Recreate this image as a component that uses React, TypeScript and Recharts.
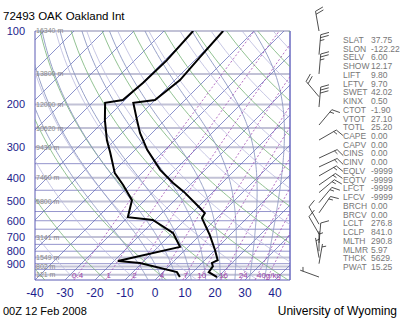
import React from "react";
import { ScatterChart, Scatter, XAxis, YAxis, ReferenceLine } from "recharts";

const tempP = [100, 128, 159, 192, 197, 232, 262, 307, 371, 420, 457, 532, 558, 585, 687, 791, 871, 894, 922, 975, 1021];
const tempC = [-60.3, -59.3, -58.3, -60.0, -66.3, -59.3, -54.0, -46.0, -35.0, -26.3, -19.7, -9.0, -5.7, -5.0, 3.3, 10.0, 14.3, 13.3, 14.7, 15.3, 19.7];
const dwptP = [100, 132, 163, 192, 197, 232, 280, 316, 383, 428, 494, 580, 596, 673, 768, 878, 894, 975, 1021];
const dwptC = [-70.3, -69.3, -69.7, -70.7, -75.7, -70.0, -62.7, -57.3, -49.0, -42.3, -34.3, -30.0, -20.7, -9.7, -2.7, -18.7, -10.7, 4.7, 7.3];

// winds: pressure, direction (deg), speed (kt)
const windP = [100, 125, 150, 186, 205, 243, 280, 332, 361, 393, 428, 460, 506, 557, 620, 680, 740, 800, 850, 900, 1021];
const windDir = [350, 5, 5, 320, 5, 40, 60, 65, 65, 60, 55, 50, 40, 35, 330, 330, 5, 0, 350, 10, 290];
const windKt = [20, 25, 25, 20, 30, 15, 15, 15, 15, 15, 15, 15, 15, 15, 10, 10, 10, 5, 5, 5, 5];

// standard levels with heights
const stdP = [100, 150, 200, 250, 300, 400, 500, 700, 850, 925, 1000];
const stdHgt = ["16340 m", "13800 m", "12000 m", "10620 m", "9430 m", "7460 m", "5800 m", "3141 m", "1549 m", "802 m", "121 m"];
const otherP = [350, 450, 550, 600, 650, 750, 800, 900, 950];

const pTicks = [100, 200, 300, 400, 500, 600, 700, 800, 900];
const tTicks = [-40, -30, -20, -10, 0, 10, 20, 30, 40];

// background lines
const isothermC = [-120, -110, -100, -90, -80, -70, -60, -50, -40, -30, -20, -10, 0, 10, 20, 30, 40];
const thetaC = [-40, -30, -20, -10, 0, 10, 20, 30, 40, 50, 60, 70, 80, 90, 100, 110, 120, 130, 140, 150, 160, 170, 180, 190];
const thetaWC = [-5, 0, 5, 10, 15, 20, 25, 30, 35];
const mixRatios = [0.4, 1, 2, 4, 7, 10, 16, 24, 32, 40];
const mixLabels = ["0.4", "1", "2", "4", "7", "10", "16", "24", "", "40g/kg"];

const statNames = ["SLAT", "SLON", "SELV", "SHOW", "LIFT", "LFTV", "SWET", "KINX", "CTOT", "VTOT", "TOTL", "CAPE", "CAPV", "CINS", "CINV", "EQLV", "EQTV", "LFCT", "LFCV", "BRCH", "BRCV", "LCLT", "LCLP", "MLTH", "MLMR", "THCK", "PWAT"];
const statValues = ["37.75", "-122.22", "6.00", "12.17", "9.80", "9.70", "42.02", "0.50", "-1.90", "27.10", "25.20", "0.00", "0.00", "0.00", "0.00", "-9999", "-9999", "-9999", "-9999", "0.00", "0.00", "276.8", "841.0", "290.8", "5.97", "5629.", "15.25"];

const SKEW = 35.3; // deg C shift per ln(p) unit (45 degree isotherms)
const P_BOT = 1050;
const skewX = (t: number, p: number) => t + SKEW * Math.log(P_BOT / p);

const levels: number[] = [];
for (let p = 1050; p >= 100; p -= 10) levels.push(p);

const isotherm = (t: number) => [
  { x: skewX(t, 1050), y: 1050 },
  { x: skewX(t, 100), y: 100 },
];

const dryAdiabat = (th: number) =>
  levels.map((p) => {
    const t = (th + 273.15) * Math.pow(p / 1000, 0.2857) - 273.15;
    return { x: skewX(t, p), y: p };
  });

const es = (tc: number) => 6.112 * Math.exp((17.67 * tc) / (tc + 243.5));
const moistRate = (tk: number, p: number) => {
  const e = es(tk - 273.15);
  const rs = (0.622 * e) / (p - e);
  const Lv = 2.5e6, Rd = 287, cp = 1005;
  return (Rd * tk + Lv * rs) / (p * (cp + (Lv * Lv * rs * 0.622) / (Rd * tk * tk)));
};
const moistAdiabat = (tw: number) => {
  const pts: { x: number; y: number }[] = [];
  let tk = tw + 273.15;
  for (let p = 1000; p < 1050; p += 5) tk += moistRate(tk, p) * 5;
  for (let p = 1050; p > 100; p -= 5) {
    pts.push({ x: skewX(tk - 273.15, p), y: p });
    tk -= moistRate(tk, p) * 5;
  }
  pts.push({ x: skewX(tk - 273.15, 100), y: 100 });
  return pts;
};

const tdFromW = (w: number, p: number) => {
  const e = (w * p) / (622 + w);
  const l = Math.log(e / 6.112);
  return (243.5 * l) / (17.67 - l);
};
const mixLine = (w: number) => levels.map((p) => ({ x: skewX(tdFromW(w, p), p), y: p }));

const tempData = tempP.map((p, i) => ({ x: skewX(tempC[i], p), y: p }));
const dwptData = dwptP.map((p, i) => ({ x: skewX(dwptC[i], p), y: p }));
const mixLabelData = mixRatios.map((w, i) => ({ x: skewX(tdFromW(w, 1000), 1000), y: 1000, label: mixLabels[i] }));
const windData = windP.map((p, i) => ({ x: 0.5, y: p, dir: windDir[i], kt: windKt[i] }));

const NoDot = () => <g />;

const MixLabel = (props: any) => {
  const { cx, cy, payload } = props;
  if (cx == null || !payload.label) return <g />;
  return (
    <text x={cx} y={cy + 3} textAnchor="middle" fontSize={8} fill="#9a3fa8">
      {payload.label}
    </text>
  );
};

const WindBarb = (props: any) => {
  const { cx, cy, payload } = props;
  if (cx == null || cy == null) return <g />;
  const a = (payload.dir * Math.PI) / 180;
  const sx = Math.sin(a), sy = -Math.cos(a);
  const rx = Math.cos(a), ry = Math.sin(a);
  const L = 20;
  const lines = [<line key="staff" x1={cx} y1={cy} x2={cx + sx * L} y2={cy + sy * L} />];
  let v = Math.round(payload.kt / 5) * 5;
  let pos = L;
  let k = 0;
  while (v >= 10) {
    const px = cx + sx * pos, py = cy + sy * pos;
    lines.push(<line key={"b" + k++} x1={px} y1={py} x2={px + rx * 8 + sx * 3} y2={py + ry * 8 + sy * 3} />);
    pos -= 3;
    v -= 10;
  }
  if (v >= 5) {
    if (pos === L) pos -= 3;
    const px = cx + sx * pos, py = cy + sy * pos;
    lines.push(<line key="half" x1={px} y1={py} x2={px + rx * 4 + sx * 1.5} y2={py + ry * 4 + sy * 1.5} />);
  }
  return (
    <g stroke="#222" strokeWidth={0.8}>
      {lines}
    </g>
  );
};

const lineStyle = (stroke: string, width = 0.8, dash?: string) => ({ stroke, strokeWidth: width, strokeDasharray: dash });

export default function App() {
  return (
    <div style={{ position: "absolute", left: 0, top: 0, width: 400, height: 320, background: "#fff", fontFamily: "'Liberation Sans', Arial, sans-serif" }}>
      <div style={{ position: "absolute", left: 0, top: 0 }}>
        <ScatterChart width={400} height={320} margin={{ top: 31, right: 110, bottom: 0, left: 0 }}>
          <XAxis
            type="number"
            dataKey="x"
            domain={[-40, 45]}
            ticks={tTicks}
            interval={0}
            allowDataOverflow
            height={40}
            tickSize={0}
            tickMargin={8}
            tickLine={false}
            tick={{ fill: "#1c1c8c", fontSize: 12 }}
            axisLine={{ stroke: "#5a5ab4" }}
          />
          <YAxis
            type="number"
            dataKey="y"
            scale="log"
            domain={[100, 1050]}
            reversed
            allowDataOverflow
            ticks={pTicks}
            interval={0}
            width={35}
            tickSize={0}
            tickMargin={10}
            tickLine={false}
            tick={{ fill: "#1c1c8c", fontSize: 11 }}
            axisLine={{ stroke: "#5a5ab4" }}
          />
          {otherP.map((p) => (
            <ReferenceLine key={"o" + p} y={p} stroke="#7a7abf" strokeWidth={0.8} />
          ))}
          {stdP.map((p, i) => (
            <ReferenceLine
              key={"s" + p}
              y={p}
              stroke="#c2c2d6"
              strokeWidth={2}
              label={{ value: stdHgt[i], position: "insideLeft", offset: 1, fill: "#8a8a8a", fontSize: 7 }}
            />
          ))}
          {isothermC.map((t) => (
            <Scatter key={"it" + t} data={isotherm(t)} line={lineStyle("#5b66b8", 0.7)} shape={NoDot} isAnimationActive={false} />
          ))}
          {thetaC.map((th) => (
            <Scatter
              key={"da" + th}
              data={dryAdiabat(th)}
              line={lineStyle(th % 20 === 0 ? "#76b276" : "#b9b9dd", 0.8)}
              shape={NoDot}
              isAnimationActive={false}
            />
          ))}
          {thetaWC.map((tw) => (
            <Scatter key={"ma" + tw} data={moistAdiabat(tw)} line={lineStyle("#8d97c2", 0.9)} shape={NoDot} isAnimationActive={false} />
          ))}
          {mixRatios.map((w) => (
            <Scatter key={"mr" + w} data={mixLine(w)} line={lineStyle("#a24cb4", 0.8, "2 2")} shape={NoDot} isAnimationActive={false} />
          ))}
          <ReferenceLine x={45} stroke="#6a6ac0" strokeWidth={1.5} />
          <Scatter data={mixLabelData} shape={MixLabel} isAnimationActive={false} />
          <Scatter data={dwptData} line={lineStyle("#000", 2)} shape={NoDot} isAnimationActive={false} />
          <Scatter data={tempData} line={lineStyle("#000", 2)} shape={NoDot} isAnimationActive={false} />
        </ScatterChart>
      </div>
      <div style={{ position: "absolute", left: 290, top: 0 }}>
        <ScatterChart width={58} height={320} margin={{ top: 31, right: 0, bottom: 40, left: 0 }}>
          <XAxis type="number" dataKey="x" domain={[0, 1]} hide />
          <YAxis type="number" dataKey="y" scale="log" domain={[100, 1050]} reversed hide />
          <Scatter data={windData} shape={WindBarb} isAnimationActive={false} />
        </ScatterChart>
      </div>
      <svg width={400} height={320} style={{ position: "absolute", left: 0, top: 0, pointerEvents: "none" }}>
        <text x={3} y={20} fontSize={11.5} fill="#000">72493 OAK Oakland Int</text>
        <text x={3} y={315} fontSize={11} fill="#000">00Z 12 Feb 2008</text>
        <text x={397} y={315} fontSize={12} fill="#000" textAnchor="end">University of Wyoming</text>
        {statNames.map((n, i) => (
          <g key={n} fontSize={8.5} fill="#777">
            <text x={343} y={43 + i * 8.73}>{n}</text>
            <text x={371} y={43 + i * 8.73}>{statValues[i]}</text>
          </g>
        ))}
      </svg>
    </div>
  );
}
